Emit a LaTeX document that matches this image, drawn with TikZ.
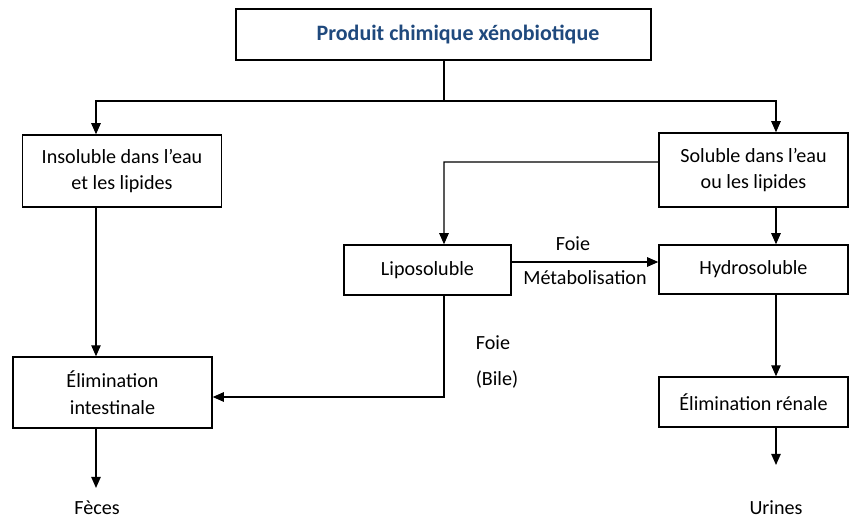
\documentclass[tikz,border=0pt]{standalone}
\usepackage{fontspec}
\setmainfont{Carlito}
\usepackage{tikz}
\usetikzlibrary{calc, positioning, arrows.meta}

\definecolor{titreblue}{RGB}{31,73,125}

\tikzset{
  boite/.style={draw, line width=0.8pt, align=center, inner sep=2pt,
    font=\fontsize{11.8}{15.8}\selectfont},
  etiq/.style={font=\fontsize{11.8}{15.8}\selectfont, inner sep=0pt},
  fleche/.style={line width=0.8pt, ->},
  trait/.style={line width=0.8pt}
}

\begin{document}
\begin{tikzpicture}[>={Triangle[length=6.5pt,width=5.5pt]}, x=0.587pt, y=-0.587pt]
  \useasboundingbox (0,0) rectangle (849,519);
  % boites
  \node (titre) [boite, minimum width=415*0.587pt, minimum height=51*0.587pt] at (443.5,34.5)
    {\hspace*{17pt}\fontsize{12.9}{15.8}\selectfont\textbf{\textcolor{titreblue}{Produit chimique xénobiotique}}};
  \node (insol) [boite, minimum width=199*0.587pt, minimum height=72*0.587pt] at (122,171)
    {Insoluble dans l’eau\\et les lipides};
  \node (solub) [boite, minimum width=189*0.587pt, minimum height=74*0.587pt] at (753.5,170)
    {Soluble dans l’eau\\ou les lipides};
  \node (lipo) [boite, minimum width=167*0.587pt, minimum height=50*0.587pt] at (427.5,270)
    {Liposoluble};
  \node (hydro) [boite, minimum width=189*0.587pt, minimum height=49*0.587pt] at (753.5,269.5)
    {Hydrosoluble};
  \node (elimint) [boite, minimum width=199*0.587pt, minimum height=71*0.587pt] at (112.5,392.5)
    {Élimination\\intestinale};
  \node (elimren) [boite, minimum width=189*0.587pt, minimum height=50*0.587pt] at (753.5,402)
    {Élimination rénale};
  \node (feces) [etiq] at (97,508) {Fèces};
  \node (urines) [etiq] at (776,508) {Urines};
  % points de passage
  \coordinate (split) at (444,101);
  \coordinate (gauche) at (96,101);
  \coordinate (droite) at (776,101);
  \coordinate (lipox) at (444,162);
  \coordinate (bile) at (444,397);
  \coordinate (fecesfin) at (96,488);
  \coordinate (urinesfin) at (776,465);
  % liaisons
  \draw [trait] (titre.south -| split) -- (split);
  \draw [fleche] (split) -- (gauche) -- (gauche |- insol.north);
  \draw [fleche] (split) -- (droite) -- (droite |- solub.north);
  \draw [fleche] (gauche |- insol.south) -- (gauche |- elimint.north);
  \draw [fleche] (gauche |- elimint.south) -- (fecesfin);
  \draw [fleche] ([yshift=4.7pt]solub.west) -- (lipox) -- (lipox |- lipo.north);
  \draw [fleche] ([yshift=4.7pt]lipo.east) -- ([yshift=4.7pt]lipo.east -| hydro.west);
  \draw [fleche] (droite |- solub.south) -- (droite |- hydro.north);
  \draw [fleche] (droite |- hydro.south) -- (droite |- elimren.north);
  \draw [fleche] (droite |- elimren.south) -- (urinesfin);
  \draw [fleche] (lipox |- lipo.south) -- (bile) -- (bile -| elimint.east);
  % textes des fleches
  \node (foie1) [etiq] at (573,244) {Foie};
  \node (metab) [etiq] at (585,278) {Métabolisation};
  \node (foie2) [etiq] at (493,343) {Foie};
  \node (bilet) [etiq] at (497,380) {(Bile)};
\end{tikzpicture}
\end{document}
